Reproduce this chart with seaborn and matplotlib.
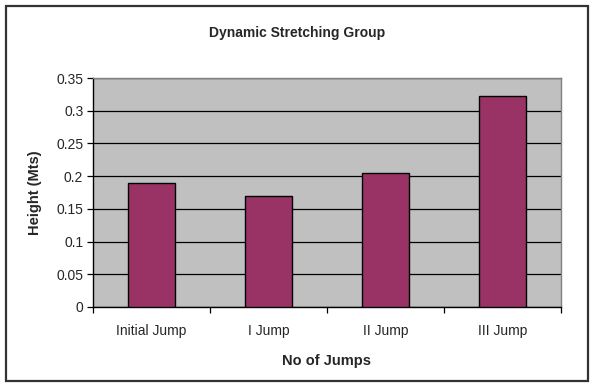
import matplotlib
matplotlib.use("Agg")
import matplotlib.pyplot as plt
from matplotlib.patches import Rectangle
from matplotlib.ticker import FixedLocator
import seaborn as sns
import pandas as pd

# Jump heights (metres) for the dynamic stretching group
jumps = ["Initial Jump", "I Jump", "II Jump", "III Jump"]
heights = [0.190, 0.170, 0.205, 0.322]
y_ticks = [0, 0.05, 0.1, 0.15, 0.2, 0.25, 0.3, 0.35]
y_tick_labels = ["0", "0.05", "0.1", "0.15", "0.2", "0.25", "0.3", "0.35"]

df = pd.DataFrame({"Jump": jumps, "Height": heights})

sns.set_style("white")
plt.rcParams["font.family"] = ["Liberation Sans", "DejaVu Sans"]

fig = plt.figure(figsize=(5.94, 3.87), dpi=100)
fig.patch.set_facecolor("white")

# outer chart frame
fig.patches.append(Rectangle((6 / 594, 6 / 387), 582 / 594, 375 / 387,
                             transform=fig.transFigure, fill=False,
                             edgecolor="#333333", linewidth=1.6, zorder=0))

ax = fig.add_axes([93 / 594, 80 / 387, 468 / 594, 229 / 387])
ax.set_facecolor("#C0C0C0")

sns.barplot(data=df, x="Jump", y="Height", color="#993366", width=0.41,
            edgecolor="black", linewidth=1.0, saturation=1, ax=ax, zorder=3)

ax.set_ylim(0, 0.35)
ax.set_xlim(-0.5, 3.5)
ax.set_yticks(y_ticks)
ax.set_yticklabels(y_tick_labels, fontsize=10)
ax.yaxis.grid(True, color="black", linewidth=0.9, zorder=1)
ax.set_axisbelow(True)

# category boundaries carry the tick marks on the x axis
ax.tick_params(axis="x", which="major", length=0, pad=12, labelsize=10)
ax.xaxis.set_minor_locator(FixedLocator([-0.5, 0.5, 1.5, 2.5, 3.5]))
ax.tick_params(axis="x", which="minor", length=4, width=0.9, color="black",
               direction="out", bottom=True)
ax.tick_params(axis="y", length=4, width=0.9, color="black",
               direction="out", left=True, pad=3)

for side in ("top", "right"):
    ax.spines[side].set_color("#808080")
    ax.spines[side].set_linewidth(1.0)
for side in ("left", "bottom"):
    ax.spines[side].set_color("black")
    ax.spines[side].set_linewidth(1.0)

ax.set_xlabel("No of Jumps", fontsize=10.5, fontweight="bold", labelpad=12)
ax.set_ylabel("Height (Mts)", fontsize=10.5, fontweight="bold", labelpad=10)

fig.text(0.5, 1 - 33 / 387, "Dynamic Stretching Group", ha="center",
         va="center", fontsize=10, fontweight="bold")

fig.savefig("out.png", dpi=100, facecolor="white")
